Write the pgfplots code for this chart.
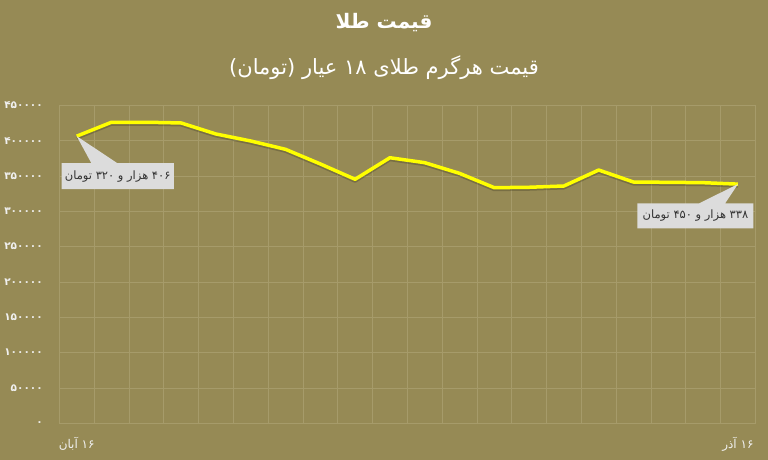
\documentclass[border=0pt]{standalone}
\usepackage{fontspec}
\usepackage{pgfplots}
\pgfplotsset{compat=1.18}
\usetikzlibrary{shapes.callouts}
\TeXXeTstate=1
\newfontfamily\fa[Script=Arabic]{DejaVu Sans}
\definecolor{bg}{HTML}{968A55}
\definecolor{gridc}{HTML}{A69B6A}
\definecolor{callbg}{HTML}{DCDCDC}
\definecolor{goldline}{HTML}{FFFF00}

\begin{document}
\begin{tikzpicture}
\fill[bg] (0,0) rectangle (768pt,460pt);
\useasboundingbox (0,0) rectangle (768pt,460pt);
\node[text=white, font=\fa\bfseries\fontsize{20}{24}\selectfont] at (384pt,437pt) {\beginR قیمت طلا\endR};
\node[text=white, font=\fa\fontsize{21}{25}\selectfont] at (384pt,392pt) {\beginR قیمت هرگرم طلای ۱۸ عیار (تومان)\endR};
\begin{axis}[
    at={(59.3pt,36.7pt)}, anchor=south west,
    scale only axis, width=696pt, height=318pt,
    xmin=-0.5, xmax=19.5, ymin=0, ymax=450000,
    xtick={-0.5,0.5,...,19.5}, xticklabels={},
    ytick={0,50000,...,450000},
    yticklabels={۰,۵۰۰۰۰,۱۰۰۰۰۰,۱۵۰۰۰۰,۲۰۰۰۰۰,۲۵۰۰۰۰,۳۰۰۰۰۰,۳۵۰۰۰۰,۴۰۰۰۰۰,۴۵۰۰۰۰},
    scaled y ticks=false,
    grid=major, major grid style={gridc, line width=0.8pt},
    axis line style={gridc, line width=0.8pt},
    tick style={draw=none},
    yticklabel style={font=\fa\bfseries\fontsize{10.5}{12}\selectfont, text=white!94!black, xshift=-13pt},
    extra x ticks={0,19},
    extra x tick labels={{\fa\beginR ۱۶ آبان\endR},{\fa\beginR ۱۶ آذر\endR}},
    extra x tick style={grid=none, tick style={draw=none},
        xticklabel style={font=\fa\fontsize{12}{14}\selectfont, text=white!94!black, yshift=-10pt}},
]
\addplot[goldline, line width=3.5pt, line join=round,
    preaction={draw=black, draw opacity=0.2, line width=4pt, transform canvas={yshift=-1.5pt}}]
  coordinates {
    (0,406320) (1,426000) (2,426000) (3,425000) (4,409400)
    (5,399500) (6,387700) (7,367000) (8,345300) (9,375800)
    (10,368800) (11,353700) (12,333400) (13,334000) (14,335800)
    (15,358400) (16,341400) (17,341000) (18,340500) (19,338450)
  };
\node[rectangle callout, fill=callbg, minimum width=110pt, minimum height=26pt,
    callout absolute pointer={(axis cs:0,406320)}, callout pointer width=26pt,
    font=\fa\fontsize{11.5}{13}\selectfont, text=black!80]
    at (axis cs:1.178,349650) {\beginR ۴۰۶ هزار و ۳۲۰ تومان\endR};
\node[rectangle callout, fill=callbg, minimum width=116pt, minimum height=25pt,
    callout absolute pointer={(axis cs:19,338450)}, callout pointer width=26pt,
    font=\fa\fontsize{11.5}{13}\selectfont, text=black!80]
    at (axis cs:17.78,293600) {\beginR ۳۳۸ هزار و ۴۵۰ تومان\endR};
\end{axis}
\end{tikzpicture}
\end{document}
